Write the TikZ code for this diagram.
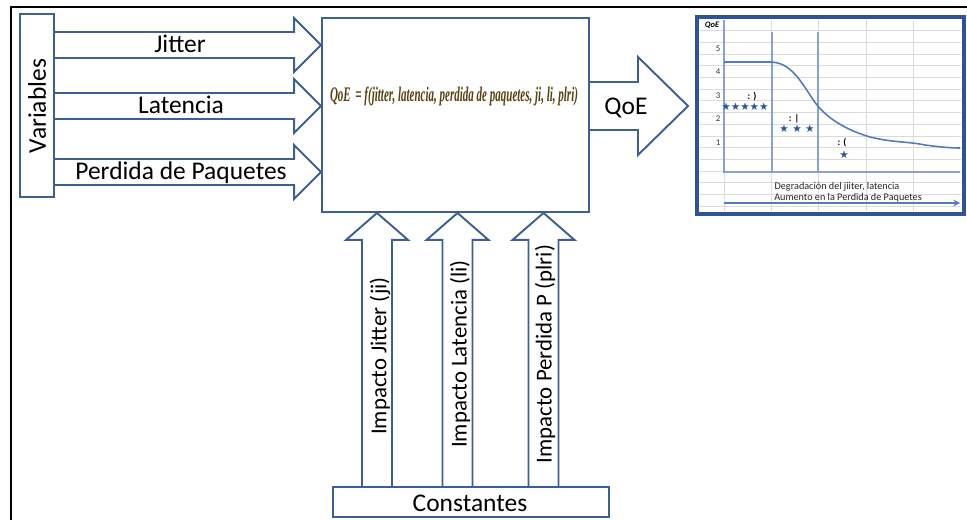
\documentclass[tikz,border=0pt]{standalone}
\usepackage{fontspec}
\setmainfont{Carlito}
\newfontfamily\starfont{DejaVu Sans}
\newfontfamily\formfont{Liberation Serif}
\usetikzlibrary{calc}

\definecolor{boxblue}{RGB}{62,96,145}
\definecolor{chartblue}{RGB}{46,84,150}
\definecolor{lineblue}{RGB}{84,124,184}
\definecolor{formcol}{RGB}{88,64,16}

\tikzset{
  box/.style={draw=boxblue, line width=1.1pt, fill=white, inner sep=0pt},
  blockarrow/.style={draw=boxblue, line width=1.1pt, line join=miter},
  lbl/.style={font=\fontsize{14.5}{16}\selectfont},
  vlbl/.style={font=\fontsize{13}{15}\selectfont, rotate=90},
  tiny/.style={font=\fontsize{5.8}{7}\selectfont, text=black!85},
  gridline/.style={draw=gray!28, line width=0.5pt},
}

% block arrow to the right: from node, to node, y
\newcommand{\rightblock}[3]{%
  \draw[blockarrow] (#1.east |- 0,#3-13) -- ($(#2.west |- 0,#3)+(-27,-13)$) -- ++(0,-14)
    -- (#2.west |- 0,#3) -- ($(#2.west |- 0,#3)+(-27,27)$) -- ++(0,-14) -- (#1.east |- 0,#3+13);}
% block arrow upwards: from node, to node, x
\newcommand{\upblock}[3]{%
  \draw[blockarrow] (#3-15,0 |- #1.north) -- ($(#3-15,0 |- #2.south)+(0,27)$) -- ++(-16,0)
    -- (#3,0 |- #2.south) -- ($(#3+31,0 |- #2.south)+(0,27)$) -- ++(-16,0) -- (#3+15,0 |- #1.north);}

\begin{document}
\begin{tikzpicture}[x=0.02cm, y=-0.02cm]
    \useasboundingbox (0,0) rectangle (967,520);

    % Frame of the screenshot
    \draw[black, line width=1.2pt] (967,7) -- (11,7) -- (11,520);

    % Boxes
    \node[box, minimum width=0.68cm, minimum height=3.66cm] (var) at (37,105.5) {};
    \node[lbl, rotate=90] (vartxt) at (37,106) {Variables};
    \node[box, minimum width=5.34cm, minimum height=3.88cm] (main) at (455.5,115) {};
    \node[box, minimum width=5.52cm, minimum height=0.6cm] (const) at (471,502) {};
    \node[lbl] (consttxt) at (470,503) {Constantes};

    % Input arrows
    \rightblock{var}{main}{45}
    \rightblock{var}{main}{106}
    \rightblock{var}{main}{172}
    \node[lbl, anchor=base] (jit) at (180,53) {Jitter};
    \node[lbl, anchor=base] (lat) at (181,114) {Latencia};
    \node[lbl, anchor=base] (perd) at (181,180) {Perdida de Paquetes};

    % Constant arrows
    \upblock{const}{main}{377}
    \upblock{const}{main}{457.5}
    \upblock{const}{main}{543.5}
    \node[vlbl] (ij) at (380,356) {Impacto Jitter (ji)};
    \node[vlbl] (il) at (460,354) {Impacto Latencia (li)};
    \node[vlbl] (ip) at (545,354) {Impacto Perdida P (plri)};

    % Formula
    \node[text=formcol, inner sep=0pt] (form) at (454,96)
      {\resizebox*{4.96cm}{0.38cm}{\formfont\bfseries\itshape QoE \,= f(jitter, latencia, perdida de paquetes, ji, li, plri)}};

    % Output arrow
    \coordinate (qtip) at (688,106);
    \draw[blockarrow] (main.east |- 0,82) -- ($(qtip)+(-50,-24)$) -- ($(qtip)+(-50,-49)$) -- (qtip)
      -- ($(qtip)+(-50,49)$) -- ($(qtip)+(-50,24)$) -- (main.east |- 0,130);
    \node[lbl] (qoe) at (626,108) {QoE};

    % Chart
    \node[draw=chartblue, line width=1.8pt, fill=white, minimum width=5.34cm, minimum height=3.94cm] (chart) at (830.5,115.5) {};
    \foreach \k in {0,...,15}
      \draw[gridline] (700,30.7+\k*11.7) -- (961,30.7+\k*11.7);
    \foreach \gx in {724,771,818,866,913}
      \draw[gridline] (\gx,20) -- (\gx,211);
    \draw[lineblue!70, line width=0.8pt] (724,20) -- (724,172) -- (960,172);
    \draw[lineblue!70, line width=0.8pt] (772,32) -- (772,172);
    \draw[lineblue!70, line width=0.8pt] (818,32) -- (818,172);
    \draw[lineblue, line width=0.9pt] (724,62) -- (770,62)
      .. controls (790,62) and (800,80) .. (812,98)
      .. controls (822,114) and (840,128) .. (870,137)
      .. controls (895,143) and (905,141) .. (925,145)
      .. controls (940,147) and (950,148) .. (960,148);
    \node[font=\fontsize{4.8}{6}\selectfont\bfseries\itshape] (qoeax) at (712,25) {QoE};
    \foreach \v/\py in {5/49,4/72,3/96,2/119,1/143}
      \node[font=\fontsize{5}{6}\selectfont, text=black!80] (t\v) at (718,\py) {\v};
    \node[font=\fontsize{5.5}{6}\selectfont\bfseries] (s1) at (752,97) {: )};
    \node[font=\fontsize{6}{7}\selectfont\starfont, text=chartblue, inner sep=0pt] (st1) at (745,107) {★★★★★};
    \node[font=\fontsize{5.5}{6}\selectfont\bfseries] (s2) at (794,119) {: |};
    \node[font=\fontsize{6}{7}\selectfont\starfont, text=chartblue, inner sep=0pt] (st2) at (797,129) {★ ★ ★};
    \node[font=\fontsize{5.5}{6}\selectfont\bfseries] (s3) at (842,143) {: (};
    \node[font=\fontsize{6}{7}\selectfont\starfont, text=chartblue, inner sep=0pt] (st3) at (844,155) {★};
    \node[tiny] (deg) at (837,187) {Degradación del jiiter, latencia};
    \node[tiny] (aum) at (848,198) {Aumento en la Perdida de Paquetes};
    \draw[lineblue, line width=0.7pt, -stealth] (724,203) -- (960,203);
\end{tikzpicture}
\end{document}
